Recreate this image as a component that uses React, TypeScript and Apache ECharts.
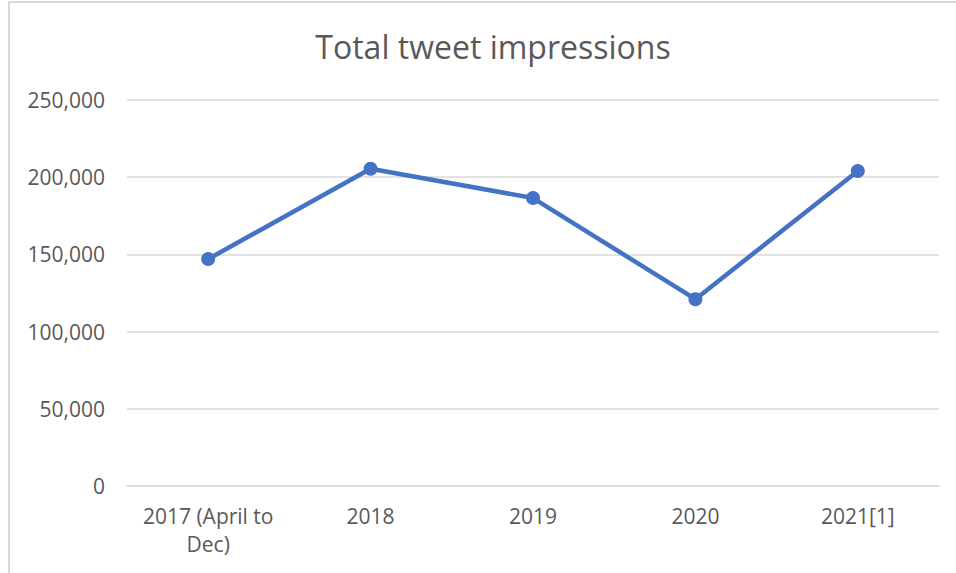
import React, { useEffect, useRef } from "react";
import * as echarts from "echarts";

const categories = ["2017 (April to\nDec)", "2018", "2019", "2020", "2021[1]"];
const impressions = [147000, 205500, 186500, 121000, 204000];
const titleText = "Total tweet impressions";

export default function App() {
  const ref = useRef<HTMLDivElement>(null);
  useEffect(() => {
    const chart = echarts.init(ref.current!, undefined, { renderer: "svg" });
    chart.setOption({
      animation: false,
      backgroundColor: "#ffffff",
      title: {
        text: titleText,
        left: 488,
        textAlign: "center",
        top: 25,
        textStyle: { fontFamily: "Open Sans", fontSize: 32, fontWeight: "normal", color: "#595959" },
      },
      graphic: [
        {
          type: "rect",
          shape: { x: 9, y: 2, width: 1000, height: 600 },
          style: { fill: "none", stroke: "#d9d9d9", lineWidth: 2 },
          silent: true,
        },
      ],
      grid: { left: 127, right: 17, top: 100, bottom: 87, containLabel: false },
      xAxis: {
        type: "category",
        data: categories,
        boundaryGap: true,
        axisLine: { show: true, lineStyle: { color: "#d9d9d9", width: 1.5 } },
        axisTick: { show: false },
        axisLabel: {
          fontFamily: "Open Sans",
          fontSize: 21,
          color: "#595959",
          margin: 16,
          lineHeight: 28,
          interval: 0,
        },
      },
      yAxis: {
        type: "value",
        min: 0,
        max: 250000,
        interval: 50000,
        axisLine: { show: false },
        axisTick: { show: false },
        splitLine: { lineStyle: { color: "#d9d9d9", width: 1.5 } },
        axisLabel: {
          fontFamily: "Open Sans",
          fontSize: 21,
          color: "#595959",
          margin: 22,
          formatter: (v: number) => v.toLocaleString("en-US"),
        },
      },
      series: [
        {
          type: "line",
          data: impressions,
          symbol: "circle",
          symbolSize: 14,
          lineStyle: { color: "#4472C4", width: 4.5 },
          itemStyle: { color: "#4472C4" },
        },
      ],
    });
    return () => chart.dispose();
  }, []);
  return (
    <div
      ref={ref}
      style={{ position: "fixed", left: 0, top: 0, width: 956, height: 573 }}
    />
  );
}
